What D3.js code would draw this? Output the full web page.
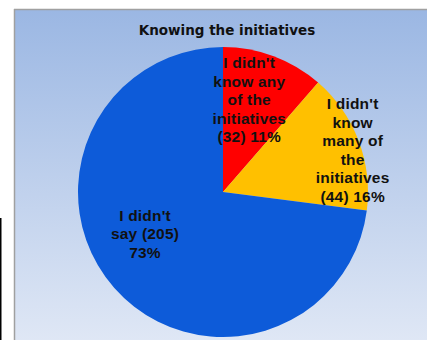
<!DOCTYPE html>
<html><head><meta charset="utf-8">
<script src="https://cdn.jsdelivr.net/npm/d3@7"></script>
<style>html,body{margin:0;padding:0;background:#fff;overflow:hidden}</style>
</head><body>
<script>
const categories = ["I didn't know any of the initiatives", "I didn't know many of the initiatives", "I didn't say"];
const values = [32, 44, 205];
const labelLines = [
  ["I didn't", "know any", "of the", "initiatives"],
  ["I didn't", "know", "many of", "the", "initiatives"],
  ["I didn't", "say"]
];
const colors = ["#ff0000", "#ffc000", "#0d5bd9"];
const title = "Knowing the initiatives";

const W = 427, H = 340;
const svg = d3.select("body").append("svg").attr("width", W).attr("height", H);
const defs = svg.append("defs");
const g = defs.append("linearGradient").attr("id","bg").attr("x1",0).attr("y1",0).attr("x2",0).attr("y2",1);
g.append("stop").attr("offset","0%").attr("stop-color","#9bb7e3");
g.append("stop").attr("offset","100%").attr("stop-color","#dfe7f5");

svg.append("rect").attr("x",15).attr("y",10).attr("width",W-15).attr("height",H-10).attr("fill","url(#bg)");
svg.append("line").attr("x1",14.5).attr("x2",14.5).attr("y1",9).attr("y2",H).attr("stroke","#a0a0a0").attr("stroke-width",1.5);
svg.append("line").attr("x1",14).attr("x2",W).attr("y1",9.5).attr("y2",9.5).attr("stroke","#a0a0a0").attr("stroke-width",1.5);
svg.append("line").attr("x1",0.75).attr("x2",0.75).attr("y1",218).attr("y2",H).attr("stroke","#000").attr("stroke-width",1.5);

svg.append("text").attr("x",227).attr("y",35).attr("text-anchor","middle")
  .attr("font-family","DejaVu Sans, Verdana, sans-serif").attr("font-weight","bold").attr("font-size",13.5)
  .attr("fill","#111").text(title);

const cx = 223, cy = 192, r = 145;
const total = d3.sum(values);
const pie = d3.pie().sort(null).value(d => d);
const arcs = pie(values);
const arc = d3.arc().innerRadius(0).outerRadius(r);
const gp = svg.append("g").attr("transform", `translate(${cx},${cy})`);
gp.selectAll("path").data(arcs).enter().append("path")
  .attr("d", arc).attr("fill", (d,i) => colors[i]);

// label placement (radius fraction, angle adjust in radians)
const labelR = [0.66, 0.94, 0.61];
const labelDA = [-0.08, 0.05, 0.23];
const lh = 18.5;
arcs.forEach((a, i) => {
  const ang = (a.startAngle + a.endAngle) / 2 + labelDA[i];
  const rr = r * labelR[i];
  const x = Math.sin(ang) * rr, y = -Math.cos(ang) * rr;
  const pct = Math.round(values[i] / total * 100) + "%";
  let lines = labelLines[i].slice();
  if (i === 2) { lines[lines.length-1] += " (" + values[i] + ")"; lines.push(pct); }
  else lines.push("(" + values[i] + ") " + pct);
  const t = gp.append("text").attr("text-anchor","middle")
    .attr("font-family","Liberation Sans, Arial, sans-serif").attr("font-weight","bold")
    .attr("font-size",15.5).attr("letter-spacing",0.2).attr("fill","#111");
  const y0 = y - (lines.length - 1) * lh / 2 + 5.5;
  lines.forEach((ln, k) => t.append("tspan").attr("x", x).attr("y", y0 + k * lh).text(ln));
});
</script>
</body></html>
